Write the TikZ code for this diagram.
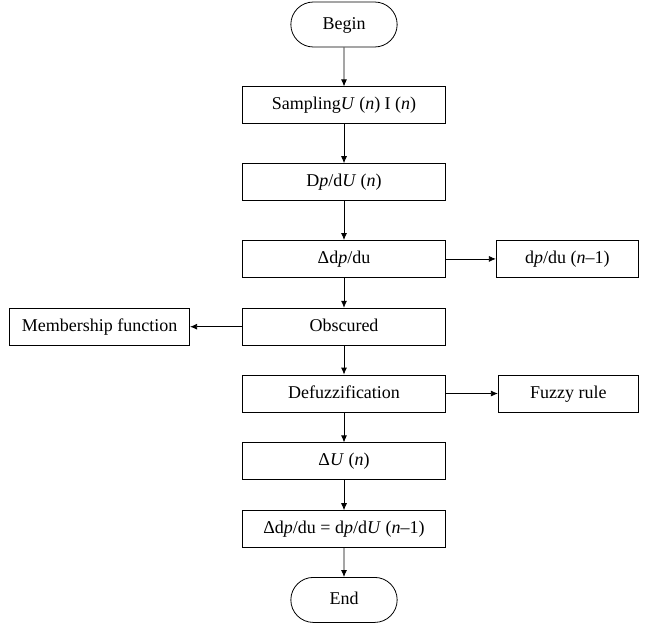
\documentclass[tikz,border=0pt]{standalone}
\usepackage{fontspec}
\setmainfont{Liberation Serif}
\usetikzlibrary{positioning,arrows.meta,shapes.misc}

\begin{document}
\begin{tikzpicture} [x=1pt,y=1pt,node distance=39pt,line width=0.8pt,
    font=\fontsize{18}{21}\selectfont,
    box/.style={draw,rectangle,minimum width=203pt,minimum height=37pt,inner sep=2pt,text height=13pt,text depth=4pt},
    term/.style={draw,rounded rectangle,minimum width=113pt,minimum height=45pt,text height=13pt,text depth=4pt}]
    \useasboundingbox (0,0) rectangle (647,-625);

    \node[term] (begin) at (344,-24.5) {Begin};
    \node[box,below=of begin] (sampling) {Sampling\textit{U} (\textit{n}) I (\textit{n})};
    \node[box,below=of sampling] (dpdu) {D\textit{p}/d\textit{U} (\textit{n})};
    \node[box,below=of dpdu] (delta) {Δd\textit{p}/du};
    \node[box,minimum width=142pt,right=50pt of delta] (prev) {d\textit{p}/du (\textit{n}–1)};
    \node[box,below=30pt of delta] (obscured) {Obscured};
    \node[box,minimum width=180pt,left=52pt of obscured] (member) {Membership function};
    \node[box,below=29pt of obscured] (defuzz) {Defuzzification};
    \node[box,minimum width=140pt,right=52pt of defuzz] (rule) {Fuzzy rule};
    \node[box,below=30pt of defuzz] (deltau) {Δ\textit{U} (\textit{n})};
    \node[box,below=30pt of deltau] (update) {Δd\textit{p}/du = d\textit{p}/d\textit{U} (\textit{n}–1)};
    \node[term,below=29pt of update] (end) {End};

    \path (begin) edge [-{Latex[length=7pt,width=6pt]}] (sampling);
    \path (sampling) edge [-{Latex[length=7pt,width=6pt]}] (dpdu);
    \path (dpdu) edge [-{Latex[length=7pt,width=6pt]}] (delta);
    \path (delta) edge [-{Latex[length=7pt,width=6pt]}] (prev);
    \path (delta) edge [-{Latex[length=7pt,width=6pt]}] (obscured);
    \path (obscured) edge [-{Latex[length=7pt,width=6pt]}] (member);
    \path (obscured) edge [-{Latex[length=7pt,width=6pt]}] (defuzz);
    \path (defuzz) edge [-{Latex[length=7pt,width=6pt]}] (rule);
    \path (defuzz) edge [-{Latex[length=7pt,width=6pt]}] (deltau);
    \path (deltau) edge [-{Latex[length=7pt,width=6pt]}] (update);
    \path (update) edge [-{Latex[length=7pt,width=6pt]}] (end);
\end{tikzpicture}
\end{document}
